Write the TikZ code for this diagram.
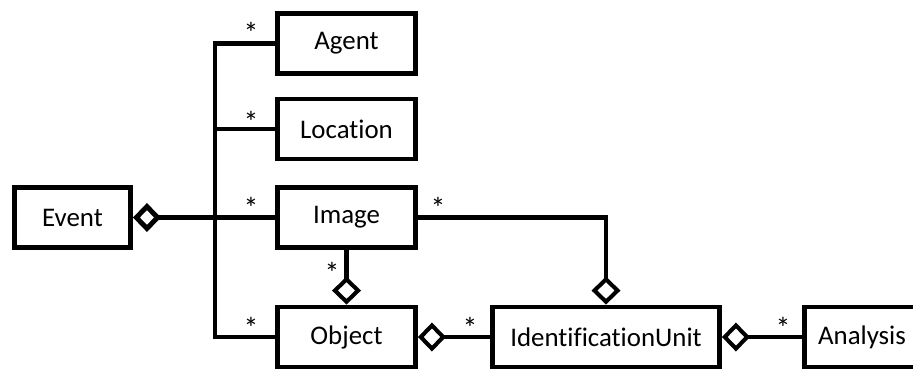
\documentclass[tikz,border=0pt]{standalone}
\usepackage{fontspec}
\setmainfont[Ligatures=NoCommon]{Carlito}
\usetikzlibrary{arrows.meta}

\tikzset{
	cls/.style={draw, line width=2.8pt, minimum width=2.76cm, minimum height=1.2cm, inner sep=0pt, font=\fontsize{15.3}{17}\selectfont},
	assoc/.style={line width=2.3pt},
	agg/.style={assoc, {Diamond[open, length=0.56cm, width=0.58cm]}-},
	mult/.style={inner sep=0pt, font=\fontsize{17}{19}\selectfont}
}

\begin{document}
\begin{tikzpicture}[x=0.02cm, y=-0.02cm]
	\useasboundingbox (0,0) rectangle (913,370);

	% classes
	\node[cls, minimum width=2.32cm] (event) at (72.5, 217.5) {Event};
	\node[cls] (agent) at (346.5, 43.5) {Agent};
	\node[cls] (location) at (346.5, 129) {Location};
	\node[cls] (image) at (346.5, 217.5) {Image};
	\node[cls] (object) at (346.5, 337) {Object};
	\node[cls, minimum width=4.54cm] (idunit) at (606, 337) {IdentificationUnit};
	\node[cls, minimum width=2.3cm] (analysis) at (862, 337) {Analysis};

	% trunk from Event
	\coordinate (trunk) at (215, 0);
	\draw[assoc] (agent.west) -| (trunk |- object.west) -- (object.west);
	\draw[assoc] (location.west) -- (location.west -| trunk);
	\draw[assoc] (image.west) -- (image.west -| trunk);
	\draw[agg, line width=2.8pt] (event.east) -- (event.east -| trunk);

	% aggregations
	\draw[agg] (object.north) -- (image.south);
	\draw[agg] (idunit.north) |- (image.east);
	\draw[agg] (object.east) -- (idunit.west);
	\draw[agg] (idunit.east) -- (analysis.west);

	% multiplicities
	\node[mult] (m1) at (251, 33) {*};
	\node[mult] (m2) at (251, 122) {*};
	\node[mult] (m3) at (251, 208) {*};
	\node[mult] (m4) at (251, 328) {*};
	\node[mult] (m5) at (332, 273) {*};
	\node[mult] (m6) at (438, 208) {*};
	\node[mult] (m7) at (470, 328) {*};
	\node[mult] (m8) at (783, 328) {*};
\end{tikzpicture}
\end{document}
